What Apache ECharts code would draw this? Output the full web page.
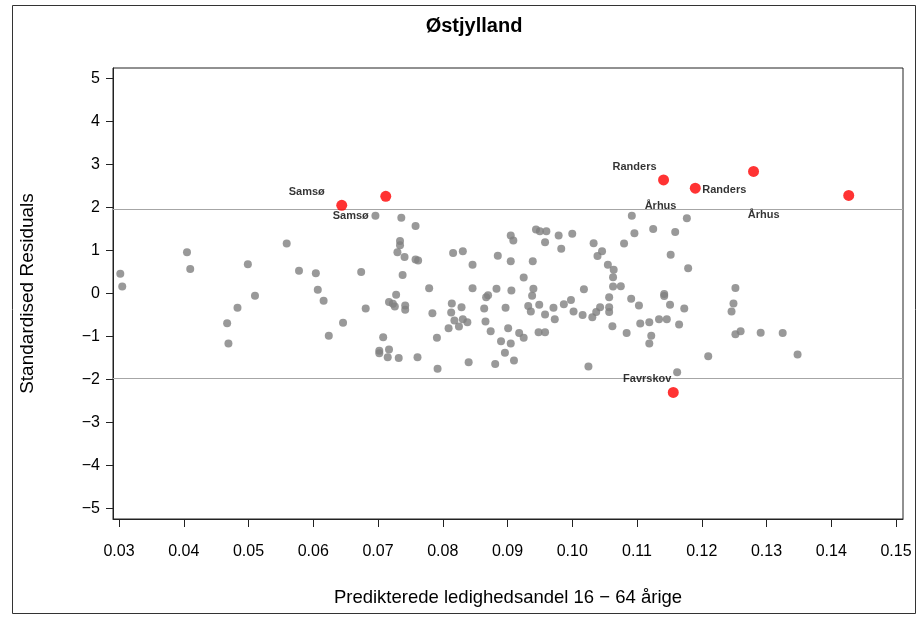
<!DOCTYPE html>
<html>
<head>
<meta charset="utf-8">
<script src="https://cdn.jsdelivr.net/npm/echarts@6/dist/echarts.min.js"></script>
<style>
html,body{margin:0;padding:0;background:#fff;}
#main{width:921px;height:617px;}
</style>
</head>
<body>
<div id="main"></div>
<script>
// grey points: predicted share vs standardised residual
var greyX = [0.0302,0.0305,0.0405,0.0410,0.0483,0.0467,0.0469,0.0499,0.0510,0.0559,
  0.0578,0.0604,0.0607,0.0616,0.0646,0.0624,0.0674,0.0681,0.0696,0.0736,
  0.0758,0.0734,0.0734,0.0730,0.0741,0.0758,0.0762,0.0816,0.0831,0.0846,
  0.0738,0.0779,0.0846,0.0728,0.0717,0.0723,0.0726,0.0742,0.0742,0.0784,
  0.0814,0.0829,0.0813,0.0818,0.0831,0.0838,0.0825,0.0809,0.0867,0.0870,
  0.0864,0.0866,0.0708,0.0702,0.0702,0.0717,0.0715,0.0732,0.0761,0.0791,
  0.0792,0.0840,0.0905,0.0909,0.0944,0.0950,0.0960,0.0979,0.1000,0.0958,
  0.0983,0.1033,0.1046,0.1039,0.0885,0.0905,0.0939,0.1055,0.1064,0.0925,
  0.0883,0.0906,0.0940,0.0938,0.1018,0.0897,0.0932,0.0936,0.0949,0.0958,
  0.0971,0.0973,0.0987,0.0998,0.1002,0.1016,0.1031,0.1037,0.1043,0.1057,
  0.1057,0.1057,0.1063,0.1063,0.1062,0.0874,0.0901,0.0918,0.0925,0.0890,
  0.0905,0.0896,0.0881,0.0910,0.0948,0.0958,0.1025,0.1092,0.1177,0.1096,
  0.1125,0.1159,0.1080,0.1152,0.1179,0.1075,0.1091,0.1103,0.1142,0.1142,
  0.1151,0.1173,0.1084,0.1105,0.1119,0.1134,0.1146,0.1165,0.1122,0.1119,
  0.1210,0.1162,0.1252,0.1249,0.1246,0.1252,0.1260,0.1291,0.1325,0.1348];
var greyY = [0.46,0.16,0.96,0.57,-0.33,-0.69,-1.16,0.68,-0.05,1.16,
  0.53,0.47,0.09,-0.17,-0.68,-0.98,0.50,-0.35,1.81,1.76,
  1.57,1.22,1.12,0.96,0.85,0.79,0.77,0.94,0.98,0.67,
  0.43,0.12,0.12,-0.03,-0.20,-0.24,-0.30,-0.28,-0.38,-0.46,
  -0.23,-0.32,-0.44,-0.63,-0.60,-0.67,-0.77,-0.81,-0.09,-0.04,
  -0.35,-0.65,-1.02,-1.33,-1.39,-1.30,-1.48,-1.50,-1.48,-1.03,
  -1.75,-1.60,1.35,1.23,1.49,1.45,1.45,1.35,1.39,1.19,
  1.04,1.17,0.98,0.87,0.88,0.75,0.75,0.67,0.55,0.37,
  0.11,0.07,0.11,-0.05,0.10,-0.33,-0.29,-0.42,-0.26,-0.49,
  -0.33,-0.60,-0.25,-0.15,-0.42,-0.50,-0.55,-0.43,-0.32,-0.09,
  -0.32,-0.43,0.16,0.38,-0.76,-0.88,-0.81,-0.92,-1.03,-1.11,
  -1.16,-1.38,-1.64,-1.56,-0.90,-0.90,-1.70,1.81,1.75,1.40,
  1.50,1.43,1.16,0.90,0.59,0.17,-0.12,-0.28,-0.01,-0.06,
  -0.26,-0.35,-0.92,-0.70,-0.67,-0.60,-0.60,-0.72,-0.98,-1.16,
  -1.46,-1.83,0.13,-0.23,-0.42,-0.95,-0.88,-0.91,-0.92,-1.42];

// outliers (red, labelled)
var redX = [0.0644,0.0712,0.1141,0.1190,0.1280,0.1427,0.1156];
var redY = [2.05,2.26,2.64,2.45,2.84,2.28,-2.30];
var redNames = ['Samsø','Samsø','Randers','Randers','Århus','Århus','Favrskov'];

var xTicks = [0.03,0.04,0.05,0.06,0.07,0.08,0.09,0.10,0.11,0.12,0.13,0.14,0.15];
var yTicks = [-5,-4,-3,-2,-1,0,1,2,3,4,5];
var refLines = [1.96,-1.96];

var chartTitle = 'Østjylland';
var xTitle = 'Predikterede ledighedsandel 16 − 64 årige';
var yTitle = 'Standardised Residuals';

// label offsets from each red point (px)
var labelOffsets = [[-35,-13],[-35,20],[-29,-13],[29,2],[-93,35],[-85,20],[-26,-13]];

var font = 'Liberation Sans, Arial, sans-serif';

var greyData = greyX.map(function(x,i){ return [x, greyY[i]]; });
var redData = redX.map(function(x,i){
  return {
    value:[x, redY[i]],
    name:redNames[i],
    label:{
      show:true, position:'inside', offset:labelOffsets[i], formatter:'{b}',
      color:'#000', fontFamily:font, fontSize:11, fontWeight:'bold'
    }
  };
});

var myChart = echarts.init(document.getElementById('main'));
var option = {
  animation:false,
  backgroundColor:'#fff',
  title:{
    text:chartTitle,
    left:469,
    textAlign:'center',
    top:11,
    textStyle:{fontFamily:font, fontSize:20, fontWeight:'bold', color:'#000'}
  },
  graphic:[{
    type:'rect',
    shape:{x:12.5, y:5.5, width:903, height:608},
    style:{fill:'none', stroke:'#333', lineWidth:1},
    silent:true
  }],
  grid:{
    left:113, top:68, width:790, height:451,
    show:true, borderColor:'#222', borderWidth:1, backgroundColor:'#fff'
  },
  xAxis:{
    type:'value',
    min:0.029073, max:0.151081,
    name:xTitle,
    nameLocation:'middle',
    nameGap:69,
    nameTextStyle:{fontFamily:font, fontSize:18.5, color:'#000'},
    axisLine:{show:true, onZero:false, lineStyle:{color:'#222'}},
    axisTick:{show:true, customValues:xTicks, length:8, lineStyle:{color:'#222'}},
    axisLabel:{
      customValues:xTicks, margin:25,
      fontFamily:font, fontSize:16, color:'#000',
      formatter:function(v){ return v.toFixed(2); }
    },
    splitLine:{show:false}
  },
  yAxis:{
    type:'value',
    min:-5.244, max:5.244,
    name:yTitle,
    nameLocation:'middle',
    nameGap:76,
    nameRotate:90,
    nameTextStyle:{fontFamily:font, fontSize:19, color:'#000'},
    axisLine:{show:true, onZero:false, lineStyle:{color:'#222'}},
    axisTick:{show:true, customValues:yTicks, length:7, lineStyle:{color:'#222'}},
    axisLabel:{
      customValues:yTicks, margin:13,
      fontFamily:font, fontSize:16, color:'#000',
      formatter:function(v){ return String(v).replace('-', '−'); }
    },
    splitLine:{show:false}
  },
  series:[
    {
      type:'scatter',
      data:greyData,
      symbolSize:8,
      itemStyle:{color:'#808080'},
      silent:true,
      markLine:{
        silent:true,
        symbol:['none','none'],
        label:{show:false},
        lineStyle:{color:'#a6a6a6', type:'solid', width:1},
        data:refLines.map(function(v){ return {yAxis:v}; })
      }
    },
    {
      type:'scatter',
      data:redData,
      symbolSize:11,
      z:5,
      itemStyle:{color:'#ff0000'},
      silent:true
    }
  ]
};
myChart.setOption(option);
</script>
</body>
</html>
